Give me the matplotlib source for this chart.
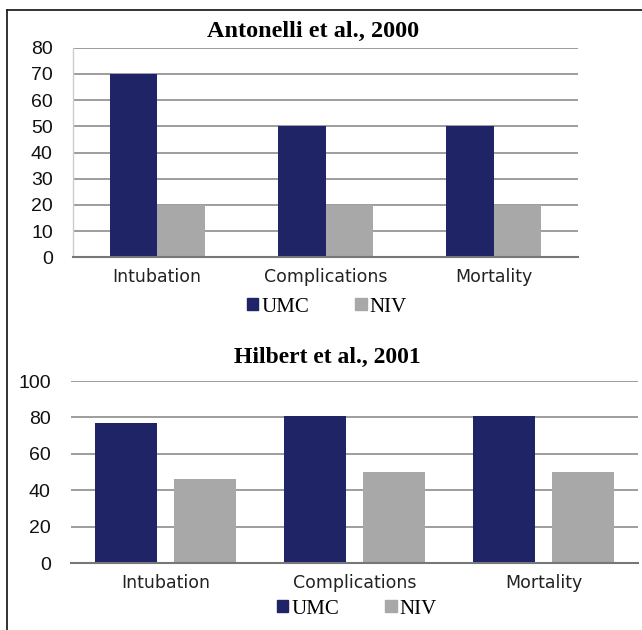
import numpy as np
import matplotlib
matplotlib.use("Agg")
import matplotlib.pyplot as plt
from matplotlib.lines import Line2D
from matplotlib.patches import Patch

categories = ["Intubation", "Complications", "Mortality"]
series_names = ["UMC", "NIV"]

title_top = "Antonelli et al., 2000"
umc_top = [70, 50, 50]
niv_top = [20, 20, 20]
yticks_top = [0, 10, 20, 30, 40, 50, 60, 70, 80]

title_bot = "Hilbert et al., 2001"
umc_bot = [77, 81, 81]
niv_bot = [46, 50, 50]
yticks_bot = [0, 20, 40, 60, 80, 100]

NAVY = "#1e2466"
GRAY = "#a8a8a8"
GRID = "#8c8c8c"

W, H = 642, 630
fig = plt.figure(figsize=(W / 100, H / 100), dpi=100)
fig.patch.set_facecolor("white")

lab_font = dict(family="DejaVu Sans", size=12.5)
tick_font = dict(family="Liberation Sans", size=14)

def style_axes(ax, yticks, left_spine):
    ax.set_ylim(yticks[0], yticks[-1])
    ax.set_yticks(yticks)
    ax.set_xlim(-0.5, len(categories) - 0.5)
    ax.set_xticks(np.arange(len(categories)))
    ax.set_xticklabels(categories, **lab_font, color="#222222")
    for lbl in ax.get_yticklabels():
        lbl.set_fontfamily(tick_font["family"])
        lbl.set_fontsize(tick_font["size"])
        lbl.set_color("#111111")
    ax.tick_params(axis="both", length=0)
    ax.tick_params(axis="y", pad=14.5)
    ax.tick_params(axis="x", pad=8)
    ax.yaxis.grid(True, color=GRID, linewidth=1.2)
    ax.set_axisbelow(True)
    for s in ["top", "right"]:
        ax.spines[s].set_visible(False)
    ax.spines["bottom"].set_color("#777777")
    ax.spines["bottom"].set_linewidth(1.5)
    if left_spine:
        ax.spines["left"].set_color("#cccccc")
        ax.spines["left"].set_linewidth(1.0)
    else:
        ax.spines["left"].set_visible(False)

# Top chart
ax1 = fig.add_axes([73 / W, 1 - 257.3 / H, 505 / W, (257.3 - 47.7) / H])
x = np.arange(len(categories))
bw1 = 0.283
ax1.bar(x - bw1 / 2, umc_top, width=bw1, color=NAVY, label=series_names[0])
ax1.bar(x + bw1 / 2, niv_top, width=bw1, color=GRAY, label=series_names[1])
style_axes(ax1, yticks_top, True)
fig.text(313 / W, 1 - 31 / H, title_top, ha="center", va="center",
         family="Liberation Serif", fontweight="bold", fontsize=17.5)

# Bottom chart
ax2 = fig.add_axes([71 / W, 1 - 563.3 / H, 567 / W, (563.3 - 381) / H])
bw2 = 0.33
off = 0.209
ax2.bar(x - off, umc_bot, width=bw2, color=NAVY, label=series_names[0])
ax2.bar(x + off, niv_bot, width=bw2, color=GRAY, label=series_names[1])
style_axes(ax2, yticks_bot, False)
fig.text(327 / W, 1 - 357 / H, title_bot, ha="center", va="center",
         family="Liberation Serif", fontweight="bold", fontsize=17)

leg_font = dict(family="Liberation Serif", size=15)
handles = [Patch(color=NAVY), Patch(color=GRAY)]
for (cx, cy) in [(327, 307), (357, 609)]:
    fig.legend(handles, series_names, loc="center",
               bbox_to_anchor=(cx / W, 1 - cy / H), ncol=2, frameon=False,
               prop=leg_font, handlelength=0.55, handleheight=0.55,
               handletextpad=0.15, columnspacing=2.2)

# frame lines
fig.add_artist(Line2D([7 / W, 7 / W], [0, 1 - 10 / H], transform=fig.transFigure,
                      color="#222222", linewidth=1.3))
fig.add_artist(Line2D([7 / W, 1], [1 - 10 / H, 1 - 10 / H], transform=fig.transFigure,
                      color="#222222", linewidth=1.3))

fig.savefig("out.png", dpi=100, facecolor="white")
